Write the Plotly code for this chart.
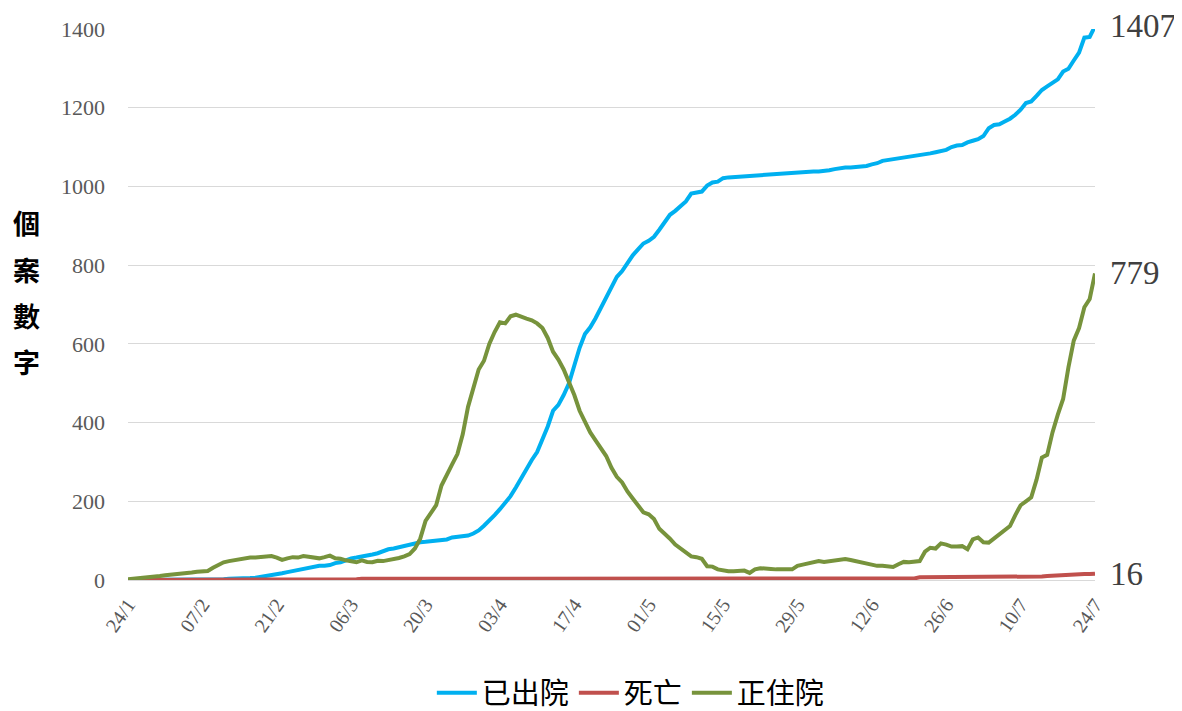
import pandas as pd
import plotly.graph_objects as go

# ---- data, daily 24 Jan 2020 - 24 Jul 2020 ----
start_date = "2020-01-24"
end_date = "2020-07-24"

discharged = [
    0, 0, 0, 0, 0, 0, 0, 0, 0, 0,
    0, 0, 0, 0, 0, 1, 1, 2, 2, 3,
    3, 4, 5, 5, 6, 8, 10, 11, 14, 17,
    20, 23, 24, 27, 30, 33, 36, 36, 38, 43,
    45, 50, 55, 57, 59, 62, 65, 68, 73, 78,
    80, 83, 88, 91, 94, 96, 97, 98, 99, 100,
    103, 108, 110, 111, 113, 118, 126, 138, 150, 165,
    180, 195, 213, 235, 260, 285, 305, 325, 355, 390,
    430, 445, 470, 500, 545, 590, 625, 642, 665, 690,
    715, 740, 770, 785, 805, 825, 840, 855, 862, 872,
    890, 910, 928, 938, 950, 962, 982, 985, 987, 1002,
    1010, 1012, 1021, 1023, 1024, 1025, 1026, 1026, 1029, 1030,
    1030, 1030, 1031, 1032, 1033, 1035, 1036, 1036, 1037, 1038,
    1038, 1039, 1041, 1044, 1047, 1048, 1048, 1049, 1050, 1052,
    1056, 1059, 1065, 1067, 1068, 1070, 1072, 1075, 1076, 1078,
    1080, 1084, 1087, 1090, 1093, 1100, 1104, 1105, 1112, 1116,
    1120, 1128, 1148, 1156, 1158, 1165, 1172, 1182, 1195, 1212,
    1216, 1230, 1245, 1254, 1262, 1272, 1292, 1299, 1320, 1340,
    1378, 1380, 1407,
]

deaths = (
    [0] * 11 + [1] * 15 + [2] * 18 + [3] * 3 + [4] * 102 + [7] * 22
    + [8, 9, 10, 11, 12, 12, 13, 14, 14, 15, 15, 16]
)

hospitalised = [
    2, 3, 5, 6, 8, 8, 10, 12, 13, 14,
    15, 17, 19, 21, 22, 23, 31, 38, 45, 48,
    50, 54, 56, 57, 57, 58, 59, 61, 57, 51,
    55, 58, 57, 61, 59, 57, 55, 58, 62, 55,
    54, 50, 47, 45, 50, 46, 45, 49, 48, 50,
    52, 56, 60, 66, 80, 105, 150, 170, 190, 240,
    270, 294, 320, 370, 440, 490, 535, 557, 600, 630,
    655, 652, 670, 674, 668, 664, 660, 652, 640, 615,
    580, 560, 535, 505, 470, 430, 400, 375, 355, 335,
    315, 285, 262, 248, 225, 207, 190, 172, 167, 155,
    130, 118, 105, 90, 80, 72, 60, 58, 54, 35,
    34, 27, 24, 22, 22, 23, 24, 18, 27, 30,
    28, 28, 27, 26, 27, 27, 36, 39, 42, 44,
    48, 46, 48, 48, 50, 53, 51, 48, 44, 41,
    40, 36, 36, 35, 33, 40, 46, 45, 46, 48,
    72, 82, 80, 93, 90, 85, 85, 86, 78, 103,
    108, 96, 95, 105, 116, 126, 137, 165, 190, 200,
    210, 255, 311, 318, 375, 420, 460, 540, 608, 640,
    693, 714, 779,
]

series_names = ["已出院", "死亡", "正住院"]
tick_labels = ["24/1", "07/2", "21/2", "06/3", "20/3", "03/4", "17/4",
               "01/5", "15/5", "29/5", "12/6", "26/6", "10/7", "24/7"]
y_ticks = [0, 200, 400, 600, 800, 1000, 1200, 1400]
y_max = 1400
y_title_chars = ["個", "案", "數", "字"]

# ---- styling ----
colors = ["#00B0F0", "#C0504D", "#77933C"]
dates = pd.date_range(start_date, end_date, freq="D")
tick_dates = dates[::14]
serif = "Liberation Serif, Times New Roman, serif"
cjk = "Noto Sans CJK TC, Noto Sans CJK SC, sans-serif"

fig = go.Figure()
for name, vals, col in zip(series_names, [discharged, deaths, hospitalised], colors):
    fig.add_trace(go.Scatter(
        x=dates, y=vals, name=name, mode="lines",
        line=dict(color=col, width=4),
    ))
    # end-of-line value label
    fig.add_annotation(
        xref="paper", yref="paper", x=1.0, y=vals[-1] / y_max,
        text=str(vals[-1]),
        xanchor="left", yanchor="middle", xshift=13, showarrow=False,
        font=dict(family=serif, size=33, color="#404040"),
    )

for i, ch in enumerate(y_title_chars):
    fig.add_annotation(
        xref="paper", yref="paper", x=-0.105, y=0.648 - i * 0.084,
        text="<b>" + ch + "</b>", showarrow=False, xanchor="center", yanchor="middle",
        font=dict(family=cjk, size=27, color="#000000"),
    )

# the page has an 8px body margin, so the figure is 8px smaller than the window
fig.update_layout(
    width=1174, height=703,
    margin=dict(l=120, r=87, t=21, b=131, autoexpand=False),
    paper_bgcolor="white", plot_bgcolor="white",
    showlegend=True,
    legend=dict(
        orientation="h", x=0.52, xanchor="center", y=-0.205, yanchor="middle",
        font=dict(family=cjk, size=29, color="#000000"),
        itemwidth=40,
    ),
    xaxis=dict(
        range=[dates[0], dates[-1]], automargin=False,
        tickvals=tick_dates, ticktext=tick_labels, tickangle=-55,
        tickfont=dict(family=serif, size=20, color="#595959"),
        showgrid=False, zeroline=False,
        showline=False, ticks="", ticklabelstandoff=8,
    ),
    yaxis=dict(
        range=[0, y_max], tickvals=y_ticks, automargin=False,
        tickfont=dict(family=serif, size=22, color="#595959"),
        showgrid=True, gridcolor="#D9D9D9", gridwidth=1,
        zeroline=True, zerolinecolor="#D9D9D9", zerolinewidth=1,
        ticks="", ticklabelstandoff=22,
    ),
)

fig.write_html("out.html")
